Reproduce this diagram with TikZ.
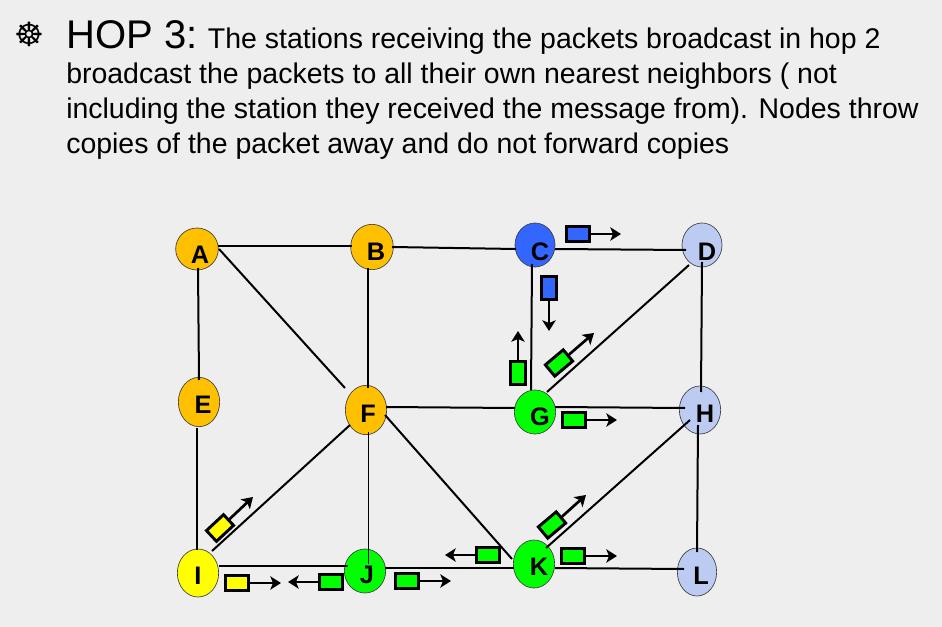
\documentclass[tikz,border=0pt]{standalone}
\usepackage{fontspec}
\setmainfont{Liberation Sans}
\newfontfamily\symfont{DejaVu Sans}
\usetikzlibrary{shapes.geometric,arrows.meta}
\definecolor{bgc}{HTML}{EEEEEE}
\definecolor{orangec}{HTML}{FFC000}
\definecolor{bluec}{HTML}{3366FF}
\definecolor{paleb}{HTML}{BBCBF1}
\definecolor{greenc}{HTML}{00FF00}
\definecolor{yellowc}{HTML}{FFFF00}
\tikzset{
  x=0.75pt,y=-0.75pt,
  station/.style={ellipse,draw=black!75,line width=0.5pt,inner sep=0pt,minimum width=31pt,minimum height=33pt},
  lab/.style={inner sep=0pt,font=\bfseries\fontsize{19}{20}\selectfont,text=black},
  link/.style={draw=black,line width=1.5pt},
  thinlink/.style={draw=black,line width=0.75pt},
  packet/.style={rectangle,draw=black,line width=2.2pt,inner sep=0pt,minimum width=17.5pt,minimum height=11pt},
  flow/.style={draw=black,line width=2pt,-{Stealth[length=8pt,width=10pt,inset=2pt]}},
}
\begin{document}
\begin{tikzpicture}
\useasboundingbox (0,0) rectangle (942,627);
\fill[bgc] (0,0) rectangle (942,627);
% heading
\node[inner sep=0pt,anchor=center] (bullet) at (29,34) {\symfont\fontsize{25}{25}\selectfont ☸};
\node[inner sep=0pt,anchor=base west,align=left,font=\fontsize{21.35}{26.4}\selectfont] (heading) at (66,154)
 {{\fontsize{30}{26.4}\selectfont HOP 3:} The stations receiving the packets broadcast in hop 2\\
  broadcast the packets to all their own nearest neighbors ( not\\
  including the station they received the message from). Nodes throw\\
  copies of the packet away and do not forward copies};
% stations
\node[station,fill=orangec,minimum height=31.5pt,minimum width=32pt] (na) at (197,249) {};
\node[station,fill=orangec,minimum height=34pt,minimum width=32pt] (nb) at (372,247) {};
\node[station,fill=bluec,minimum width=30pt] (nc) at (535,245) {};
\node[station,fill=paleb,minimum width=30pt] (nd) at (702,245) {};
\node[station,fill=orangec,minimum height=37pt] (ne) at (199,402) {};
\node[station,fill=orangec,minimum height=37pt] (nf) at (366,410) {};
\node[station,fill=greenc] (ng) at (535,412) {};
\node[station,fill=paleb,minimum height=36pt] (nh) at (700,410) {};
\node[station,fill=yellowc,minimum height=36pt] (ni) at (198,573) {};
\node[station,fill=greenc] (nj) at (365,571) {};
\node[station,fill=greenc,minimum height=36pt] (nk) at (534,564) {};
\node[station,fill=paleb,minimum height=36pt,minimum width=29.5pt] (nl) at (697,572) {};
% links
\draw[link] ([shift={(21,-3)}]na.center) -- ([shift={(-20,-1)}]nb.center);
\draw[link] ([shift={(20,0)}]nb.center) -- ([shift={(-19,4)}]nc.center);
\draw[link] ([shift={(20,4)}]nc.center) -- ([shift={(-16,5)}]nd.center);
\draw[link] ([shift={(1,19)}]na.center) -- ([shift={(0,-22)}]ne.center);
\draw[link] ([shift={(-4,21)}]nb.center) -- ([shift={(2,-22)}]nf.center);
\draw[link] ([shift={(-3,19)}]nc.center) -- ([shift={(-4,-22)}]ng.center);
\draw[link] ([shift={(-13,20)}]nd.center) -- ([shift={(12,-20)}]ng.center);
\draw[link] ([shift={(0,17)}]nd.center) -- ([shift={(1,-18)}]nh.center);
\draw[link] ([shift={(22,0)}]na.center) -- ([shift={(-21,-22)}]nf.center);
\draw[link] ([shift={(20,-3)}]nf.center) -- ([shift={(-20,-4)}]ng.center);
\draw[link] ([shift={(20,-5)}]ng.center) -- ([shift={(-15,-2)}]nh.center);
\draw[link] ([shift={(-2,26)}]ne.center) -- ([shift={(-1,-23)}]ni.center);
\draw[link] ([shift={(-16,15)}]nf.center) -- ([shift={(14,-22)}]ni.center);
\draw[thinlink] ([shift={(2,22)}]nf.center) -- ([shift={(3,-7)}]nj.center);
\draw[link] ([shift={(19,5)}]nf.center) -- ([shift={(-22,-5)}]nk.center);
\draw[link] ([shift={(-10,10)}]nh.center) -- ([shift={(12,-16)}]nk.center);
\draw[link] ([shift={(-2,15)}]nh.center) -- ([shift={(0,-20)}]nl.center);
\draw[link] ([shift={(21,-7)}]ni.center) -- ([shift={(-17,-5)}]nj.center);
\draw[link] ([shift={(20,-3)}]nj.center) -- ([shift={(-20,4)}]nk.center);
\draw[link] ([shift={(21,4)}]nk.center) -- ([shift={(-13,-3)}]nl.center);
% labels
\node[lab] (la) at (200,255) {A};
\node[lab] (lb) at (376,252) {B};
\node[lab] (lc) at (540,252) {C};
\node[lab] (ld) at (707,252) {D};
\node[lab] (le) at (203,405) {E};
\node[lab] (lf) at (368,414) {F};
\node[lab] (lg) at (540,417) {G};
\node[lab] (lh) at (705,414) {H};
\node[lab] (li) at (198,576) {I};
\node[lab] (lj) at (367,575) {J};
\node[lab] (lk) at (539,567) {K};
\node[lab] (ll) at (701,576) {L};
% packets
\node[packet,fill=bluec] (p1) at (578,234) {};
\coordinate (e1) at (621,234);
\draw[flow] (p1.east) -- (e1);
\node[packet,fill=bluec,rotate=-90] (p2) at (549,288) {};
\coordinate (e2) at (549,331);
\draw[flow] (p2.east) -- (e2);
\node[packet,fill=greenc,rotate=90] (p3) at (518,373) {};
\coordinate (e3) at (518,331);
\draw[flow] (p3.east) -- (e3);
\node[packet,fill=greenc,rotate=40] (p4) at (559,363) {};
\coordinate (e4) at (594,333);
\draw[flow] (p4.east) -- (e4);
\node[packet,fill=greenc] (p5) at (574,420) {};
\coordinate (e5) at (617,420);
\draw[flow] (p5.east) -- (e5);
\node[packet,fill=yellowc,rotate=43] (p6) at (220,528) {};
\coordinate (e6) at (253,497);
\draw[flow] (p6.east) -- (e6);
\node[packet,fill=greenc,rotate=40] (p7) at (552,525) {};
\coordinate (e7) at (586,495);
\draw[flow] (p7.east) -- (e7);
\node[packet,fill=greenc] (p8) at (573,556) {};
\coordinate (e8) at (617,556);
\draw[flow] (p8.east) -- (e8);
\node[packet,fill=greenc] (p9) at (488,555) {};
\coordinate (e9) at (445,555);
\draw[flow] (p9.west) -- (e9);
\node[packet,fill=greenc] (p10) at (331,582) {};
\coordinate (e10) at (288,582);
\draw[flow] (p10.west) -- (e10);
\node[packet,fill=greenc] (p11) at (407,581) {};
\coordinate (e11) at (451,581);
\draw[flow] (p11.east) -- (e11);
\node[packet,fill=yellowc] (p12) at (237,583) {};
\coordinate (e12) at (281,583);
\draw[flow] (p12.east) -- (e12);
\end{tikzpicture}
\end{document}
